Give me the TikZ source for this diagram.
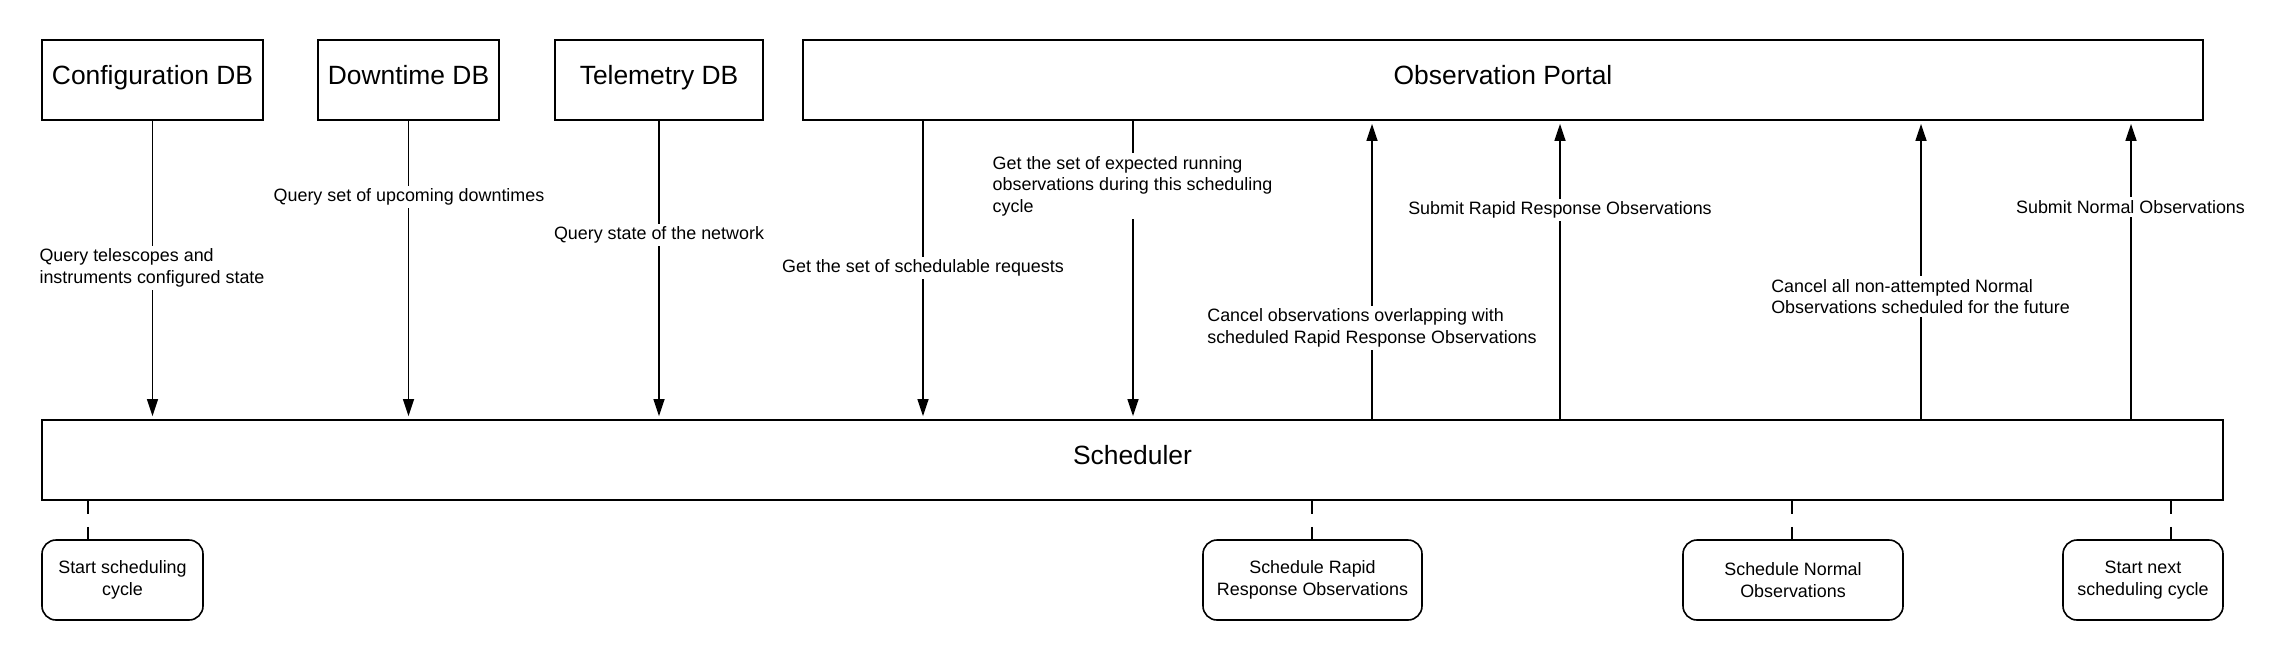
\documentclass[tikz,border=0pt]{standalone}
\usepackage{fontspec}
\setmainfont{Liberation Sans}
\usetikzlibrary{arrows.meta}
\begin{document}
\begin{tikzpicture}[x=0.5pt,y=-0.5pt,
 box/.style={draw,line width=0.9pt,minimum height=40pt,inner sep=0pt,text height=0.716em,text depth=0.23em,font=\fontsize{13.2pt}{15.8pt}\selectfont},
 evt/.style={draw,line width=0.8pt,rounded corners=7pt,minimum height=40pt,inner sep=0pt,align=center,font=\fontsize{8.95pt}{10.75pt}\selectfont},
 lbl/.style={fill=white,inner sep=1.5pt,align=left,font=\fontsize{8.95pt}{10.75pt}\selectfont},
 arr/.style={line width=0.75pt,-{Triangle[length=8.5pt,width=5.5pt]},shorten >=1.5pt},
 link/.style={line width=0.75pt,dash pattern=on 6.5pt off 6.5pt}]
\useasboundingbox (0,0) rectangle (2286,660);
% top boxes
\node[box,minimum width=110.5pt] (conf) at (152.5,80) {Configuration DB};
\node[box,minimum width=90.5pt] (down) at (408.5,80) {Downtime DB};
\node[box,minimum width=104pt] (tele) at (659,80) {Telemetry DB};
\node[box,minimum width=700pt] (portal) at (1503,80) {Observation Portal};
% scheduler
\node[box,minimum width=1090.5pt] (sched) at (1132.5,460) {Scheduler};
% bottom events
\node[evt,minimum width=80.5pt] (start) at (122.5,580) {Start scheduling\\cycle};
\node[evt,minimum width=109.5pt] (rapid) at (1312.5,580) {Schedule Rapid\\Response Observations};
\node[evt,minimum width=110pt] (normal) at (1793,580) {Schedule Normal\\Observations};
\node[evt,minimum width=80pt] (next) at (2143,580) {Start next\\scheduling cycle};
% x positions of connectors
\coordinate (xa) at (923,0);
\coordinate (xb) at (1133,0);
\coordinate (xc) at (1372,0);
\coordinate (xd) at (1560,0);
\coordinate (xe) at (1921,0);
\coordinate (xf) at (2131,0);
\coordinate (xs) at (88,0);
\coordinate (xr) at (1312,0);
\coordinate (xn) at (1792,0);
\coordinate (xx) at (2171,0);
% down arrows
\draw[arr] (conf.south) -- (conf.south |- sched.north);
\draw[arr] (down.south) -- (down.south |- sched.north);
\draw[arr] (tele.south) -- (tele.south |- sched.north);
\draw[arr] (xa |- portal.south) -- (xa |- sched.north);
\draw[arr] (xb |- portal.south) -- (xb |- sched.north);
% up arrows
\draw[arr] (xc |- sched.north) -- (xc |- portal.south);
\draw[arr] (xd |- sched.north) -- (xd |- portal.south);
\draw[arr] (xe |- sched.north) -- (xe |- portal.south);
\draw[arr] (xf |- sched.north) -- (xf |- portal.south);
% labels
\node[lbl] (l1) at (152,268) {Query telescopes and\\instruments configured state};
\node[lbl] (l2) at (409,197) {Query set of upcoming downtimes};
\node[lbl] (l3) at (659,235) {Query state of the network};
\node[lbl] (l4) at (923,268) {Get the set of schedulable requests};
\node[lbl] (l5) at (1132.5,186) {Get the set of expected running\\observations during this scheduling\\cycle};
\node[lbl] (l6) at (1372,328) {Cancel observations overlapping with\\scheduled Rapid Response Observations};
\node[lbl] (l7) at (1560,210) {Submit Rapid Response Observations};
\node[lbl] (l8) at (1920.5,296.5) {Cancel all non-attempted Normal\\Observations scheduled for the future};
\node[lbl] (l9) at (2130.5,207) {Submit Normal Observations};
% dashed links
\draw[link] (xs |- sched.south) -- (xs |- start.north);
\draw[link] (xr |- sched.south) -- (xr |- rapid.north);
\draw[link] (xn |- sched.south) -- (xn |- normal.north);
\draw[link] (xx |- sched.south) -- (xx |- next.north);
\end{tikzpicture}
\end{document}
